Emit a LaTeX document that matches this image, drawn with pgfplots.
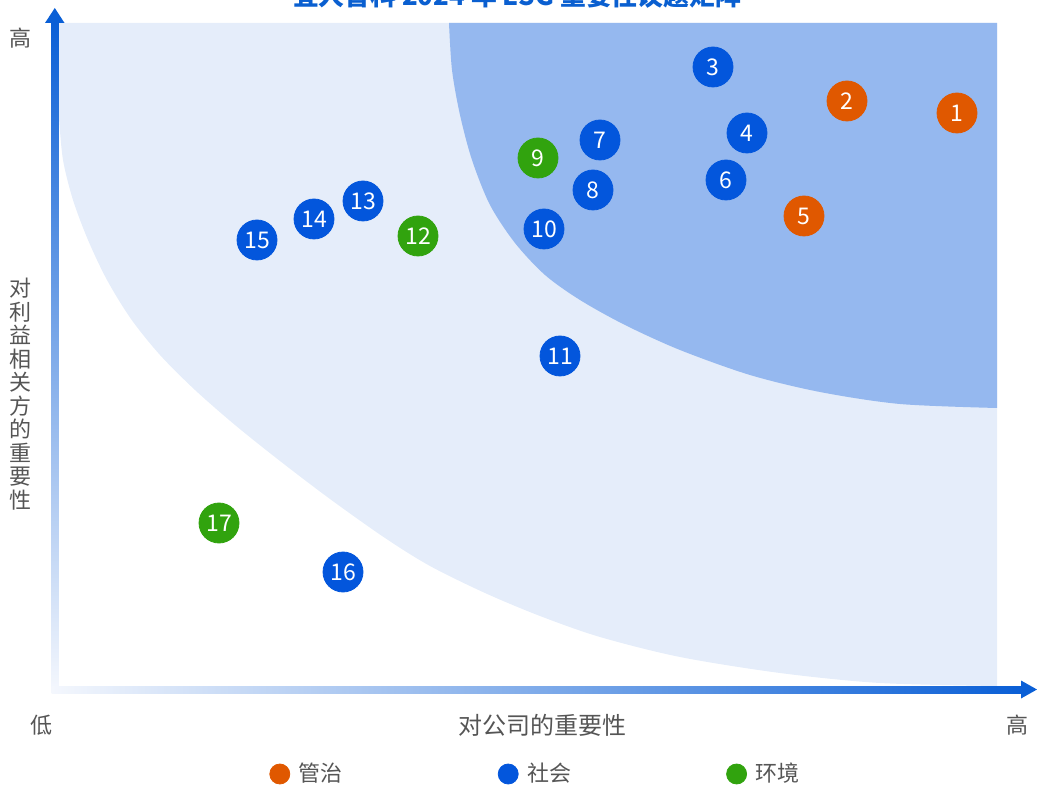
\documentclass[border=0pt]{standalone}
\usepackage{fontspec}
\setmainfont{Noto Sans CJK SC}
\usepackage{pgfplots}
\pgfplotsset{compat=1.18}
\usepgfplotslibrary{fillbetween}
\definecolor{cLight}{HTML}{E5EDFA}
\definecolor{cDark}{HTML}{95B8EF}
\definecolor{cOrange}{HTML}{E05800}
\definecolor{cBlue}{HTML}{0356DC}
\definecolor{cGreen}{HTML}{31A30E}
\definecolor{cArrow}{HTML}{0A5FD6}
\definecolor{cArrowLight}{HTML}{F4F7FD}
\definecolor{cGray}{HTML}{555555}
\definecolor{cTitle}{HTML}{0A5FD0}
\begin{document}
\begin{tikzpicture}
\begin{axis}[
  scale only axis, width=518.5pt, height=393.5pt,
  xmin=0, xmax=1037, ymin=0, ymax=787,
  hide axis, clip=false,
  legend columns=3,
  legend style={at={(axis cs:263,13)}, anchor=west, draw=none, fill=none,
    font=\fontsize{11}{12}\selectfont, text=cGray,
    /tikz/every even column/.append style={column sep=75.5pt}},
  ptlabel/.style={nodes near coords, point meta=explicit symbolic,
    nodes near coords style={anchor=center, text=white, font=\fontsize{11.5}{12}\selectfont}},
]
% light region
\addplot[name path=top, draw=none, forget plot] coordinates {(59,764) (997,764)};
\addplot[name path=low, draw=none, smooth, forget plot] coordinates {
 (59,669) (63,627) (73,587) (88,547) (107,507) (131,468) (160,432) (195,397)
 (235,362) (280,326) (330,288) (385,249) (430,221) (485,194) (540,171)
 (600,150) (680,130) (780,114) (880,104) (997,101)};
\addplot[cLight, forget plot] fill between[of=top and low];
% dark region
\addplot[name path=dtop, draw=none, forget plot] coordinates {(449,764) (997,764)};
\addplot[name path=dark, draw=none, smooth, forget plot] coordinates {
 (449,764) (452,717) (460,672) (472,627) (490,582) (515,544) (545,512)
 (580,487) (625,462) (680,437) (750,412) (820,395) (900,383) (997,379)};
\addplot[cDark, forget plot] fill between[of=dtop and dark];
% arrows
\shade[bottom color=cArrowLight, top color=cArrow] (axis cs:51.5,97) rectangle (axis cs:58.5,765);
\fill[cArrow] (axis cs:45,764) -- (axis cs:54.8,779) -- (axis cs:64.5,764) -- cycle;
\shade[left color=cArrowLight, right color=cArrow] (axis cs:51.5,94) rectangle (axis cs:1022,101);
\fill[cArrow] (axis cs:1021,106.5) -- (axis cs:1037,97.5) -- (axis cs:1021,88.5) -- cycle;
% points
\addplot[cOrange, only marks, mark=*, mark size=10pt, mark options={draw=cOrange, fill=cOrange}, ptlabel,
  legend image code/.code={\fill[cOrange] (0pt,0pt) circle (5pt); \path[draw=none, fill=none] (0pt,0pt) -- (7.5pt,0pt);}]
 table[meta=n, row sep=\\] {x y n\\ 957 674 1\\ 847 686 2\\ 804 571 5\\};
\addlegendentry{管治}
\addplot[cBlue, only marks, mark=*, mark size=10pt, mark options={draw=cBlue, fill=cBlue}, ptlabel,
  legend image code/.code={\fill[cBlue] (0pt,0pt) circle (5pt); \path[draw=none, fill=none] (0pt,0pt) -- (7.5pt,0pt);}]
 table[meta=n, row sep=\\] {x y n\\ 713 720 3\\ 747 654 4\\ 726 607 6\\ 600 647 7\\
 593 597 8\\ 544 558 10\\ 560 431 11\\ 363 586 13\\ 314 568 14\\ 257 547 15\\ 343 215 16\\};
\addlegendentry{社会}
\addplot[cGreen, only marks, mark=*, mark size=10pt, mark options={draw=cGreen, fill=cGreen}, ptlabel,
  legend image code/.code={\fill[cGreen] (0pt,0pt) circle (5pt); \path[draw=none, fill=none] (0pt,0pt) -- (7.5pt,0pt);}]
 table[meta=n, row sep=\\] {x y n\\ 538 629 9\\ 418 551 12\\ 219 264 17\\};
\addlegendentry{环境}
% texts
\node[anchor=base, font=\bfseries\fontsize{12.9}{14}\selectfont, text=cTitle] at (axis cs:517,781) {宜人智科 2024 年 ESG 重要性议题矩阵};
\node[font=\fontsize{11}{12}\selectfont, text=cGray] at (axis cs:21,749) {高};
\node[font=\fontsize{11}{11.75}\selectfont, text=cGray, align=center] at (axis cs:21,393) {对\\利\\益\\相\\关\\方\\的\\重\\要\\性};
\node[font=\fontsize{11}{12}\selectfont, text=cGray] at (axis cs:41,62) {低};
\node[font=\fontsize{12}{13}\selectfont, text=cGray] at (axis cs:542,62) {对公司的重要性};
\node[font=\fontsize{11}{12}\selectfont, text=cGray] at (axis cs:1017,62) {高};
\end{axis}
\pgfresetboundingbox
\path[use as bounding box] (current axis.south west) rectangle (current axis.north east);
\end{tikzpicture}
\end{document}
